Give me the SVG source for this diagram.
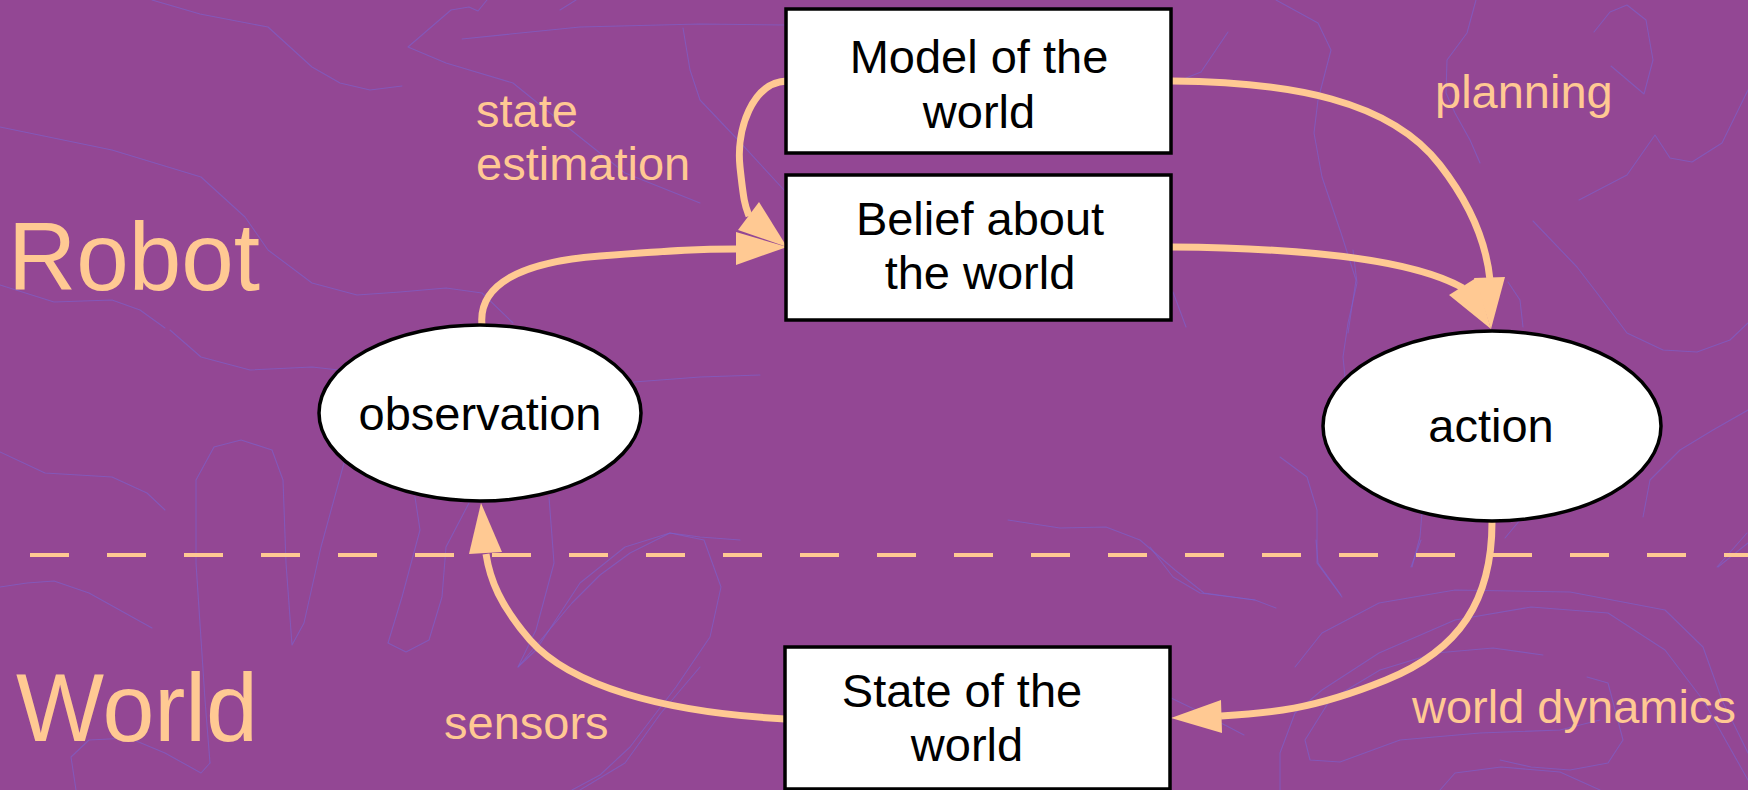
<svg xmlns="http://www.w3.org/2000/svg" width="1748" height="790" viewBox="0 0 1748 790">
<defs>
<style>
.bg{fill:#934794}
.sq{fill:none;stroke:#7c61cc;stroke-width:1.1;stroke-linejoin:round;stroke-linecap:round;opacity:0.65}
.box{fill:#ffffff;stroke:#000000;stroke-width:3.5}
.nt{font-family:"Liberation Sans",Arial,sans-serif;font-size:47px;fill:#000000;text-anchor:middle}
.lbl{font-family:"Liberation Sans",Arial,sans-serif;font-size:47px;fill:#ffc993}
.big{font-family:"Liberation Sans",Arial,sans-serif;font-size:96px;fill:#ffc993}
.edge{fill:none;stroke:#ffc993;stroke-width:7}
.head{fill:#ffc993;stroke:none}
.dash{stroke:#ffc993;stroke-width:4;stroke-dasharray:39 38;fill:none}
</style>
</defs>
<rect class="bg" x="0" y="0" width="1748" height="790"/>
<g id="background-lines">
<polyline class="sq" points="152,0 200,14 268,27 312,67 340,83 370,90 402,86"/>
<polyline class="sq" points="0,127 112,150 201,177 245,217 268,250 312,283 357,295 400,292 446,288 482,293 513,323"/>
<polyline class="sq" points="0,285 54,302 112,300 140,310 165,328"/>
<polyline class="sq" points="487,0 478,11 469,7 451,10 408,47 446,63 513,83 571,130 625,173 700,203"/>
<polyline class="sq" points="462,39 580,27 700,24 784,25"/>
<polyline class="sq" points="683,28 690,70 700,100 738,140 784,190"/>
<polyline class="sq" points="560,10 576,0"/>
<polyline class="sq" points="170,330 201,357 250,370 312,367 339,370"/>
<polyline class="sq" points="0,452 45,473 112,477 147,493 165,510"/>
<polyline class="sq" points="0,587 27,583 54,581 89,593 125,613 152,628"/>
<polyline class="sq" points="210,763 205,700 196,563 196,480 214,447 241,440 272,450 283,480 286,563 292,645 304,623 321,547 344,463"/>
<polyline class="sq" points="415,497 420,530 402,597 388,643 406,652 429,640 442,597 446,547 469,503"/>
<polyline class="sq" points="549,497 554,563 536,630 518,667 536,650 580,583 625,547 670,533 700,537 740,540"/>
<polyline class="sq" points="76,790 71,757 89,740 129,738 165,753 201,773 210,763"/>
<polyline class="sq" points="700,667 661,713 625,763 580,790"/>
<polyline class="sq" points="634,382 700,377 760,375"/>
<polyline class="sq" points="518,667 545,635 572,603 600,575 630,553 670,533 704,540 721,587 710,637 676,687 630,747 600,775 572,790"/>
<polyline class="sq" points="1008,520 1060,528 1106,527 1140,540 1175,570 1204,593 1255,600 1276,608"/>
<polyline class="sq" points="1169,697 1200,712 1244,735"/>
<polyline class="sq" points="1353,250 1357,283 1348,323 1343,357 1345,377"/>
<polyline class="sq" points="1508,282 1520,300 1523,327"/>
<polyline class="sq" points="1533,221 1577,267 1597,293 1627,333 1663,350 1697,352 1730,340 1748,323"/>
<polyline class="sq" points="1748,410 1713,430 1680,450 1650,480 1643,517"/>
<polyline class="sq" points="1280,457 1307,477 1317,510 1317,563 1342,597"/>
<polyline class="sq" points="1422,513 1420,537 1412,567"/>
<polyline class="sq" points="1520,520 1505,538"/>
<polyline class="sq" points="1747,533 1717,567"/>
<polyline class="sq" points="1276,0 1318,23 1331,50 1318,100 1314,133 1322,177 1341,233 1356,280 1348,333"/>
<polyline class="sq" points="1476,0 1467,33 1447,60 1446,93 1455,113 1470,140 1480,163"/>
<polyline class="sq" points="1594,32 1610,12 1627,5 1646,20 1653,60 1644,94 1611,66"/>
<polyline class="sq" points="1748,90 1722,143 1692,162 1670,158 1655,135 1627,175 1579,200"/>
<polyline class="sq" points="1228,32 1201,72 1186,78"/>
<polyline class="sq" points="1173,292 1186,327"/>
<polyline class="sq" points="1150,547 1173,577 1200,593 1255,600"/>
<polyline class="sq" points="1316,540 1318,563 1341,595"/>
<polyline class="sq" points="1421,540 1411,567"/>
<polyline class="sq" points="1748,543 1718,567"/>
<polyline class="sq" points="1295,667 1322,633 1379,603 1455,590 1570,592 1665,610 1703,647 1722,700 1748,753"/>
<polyline class="sq" points="1280,790 1280,753 1295,713 1322,690 1379,653 1455,620 1531,607 1608,613 1665,650 1703,700 1748,780"/>
<polyline class="sq" points="1543,655 1493,648 1436,653 1380,670 1330,700 1305,740 1310,760 1340,762 1400,740 1480,733 1560,730 1600,720"/>
<polyline class="sq" points="1587,677 1608,683 1623,740 1608,763 1570,770 1531,767 1500,760"/>
<polyline class="sq" points="1440,790 1455,773 1501,767 1560,772 1600,790"/>
</g>
<g id="divider">
<line class="dash" x1="30" y1="555" x2="1748" y2="555"/>
</g>
<g id="labels">
<text class="big" x="8" y="290" textLength="252" lengthAdjust="spacingAndGlyphs">Robot</text>
<text class="big" x="16" y="741" textLength="242" lengthAdjust="spacingAndGlyphs">World</text>
<text class="lbl" x="476" y="127">state</text>
<text class="lbl" x="476" y="180">estimation</text>
<text class="lbl" x="1435" y="108">planning</text>
<text class="lbl" x="1412" y="723">world dynamics</text>
<text class="lbl" x="444" y="739">sensors</text>
</g>
<g id="connectors">
<path class="edge" d="M 787 81 C 752 82, 736 130, 740 167 S 745 205, 749 216"/>
<polygon class="head" points="759,202 738,230 787,247"/>
<path class="edge" d="M 482 325 C 478 285, 520 262, 600 256 S 700 249, 737 249"/>
<polygon class="head" points="736,232 736,265 787,247"/>
<path class="edge" d="M 1172 81 C 1290 82, 1390 100, 1440 165 C 1475 210, 1487 250, 1490 280"/>
<polygon class="head" points="1474,278 1505,277 1491,329"/>
<path class="edge" d="M 1172 247 C 1300 248, 1410 258, 1463 288"/>
<polygon class="head" points="1449,295 1476,278 1491,329"/>
<path class="edge" d="M 1492 522 C 1492 600, 1460 650, 1386 680 S 1270 713, 1221 716"/>
<polygon class="head" points="1221,700 1222,733 1171,718"/>
<path class="edge" d="M 785 719 C 660 712, 570 685, 530 640 C 500 605, 490 580, 486 554"/>
<polygon class="head" points="469,554 502,552 481,503"/>
</g>
<g id="model">
<rect class="box" x="786" y="9" width="385" height="144"/>
<text class="nt" x="979" y="73">Model of the</text>
<text class="nt" x="979" y="128">world</text>
</g>
<g id="belief">
<rect class="box" x="786" y="175" width="385" height="145"/>
<text class="nt" x="980" y="235">Belief about</text>
<text class="nt" x="980" y="289">the world</text>
</g>
<g id="state">
<rect class="box" x="785" y="647" width="385" height="142"/>
<text class="nt" x="962" y="707">State of the</text>
<text class="nt" x="967" y="761">world</text>
</g>
<g id="observation">
<ellipse class="box" cx="480" cy="413" rx="161" ry="88"/>
<text class="nt" x="480" y="430">observation</text>
</g>
<g id="action">
<ellipse class="box" cx="1492" cy="426" rx="169" ry="95"/>
<text class="nt" x="1491" y="442">action</text>
</g>
</svg>
